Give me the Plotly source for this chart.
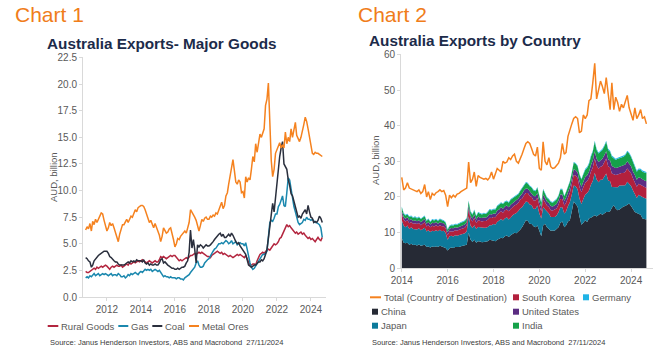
import pandas as pd
import plotly.graph_objects as go

W, H = 667, 360
FONT = "Liberation Sans, Arial, sans-serif"

# ---------------- Chart 1 data: monthly, Oct 2010 - Sep 2024 (AUD bn) ----------------
goods_start = "2010-10-01"
rural_goods = [
    2.4, 2.3, 2.3,
    2.4, 2.5, 2.6, 2.7, 2.6, 2.8, 2.7, 2.8, 2.9, 2.8, 2.9, 3.0,
    2.9, 2.7, 2.6, 2.8, 2.9, 2.8, 2.9, 3.0, 2.9, 2.9, 3.0, 2.8,
    2.9, 3.0, 3.1, 3.0, 3.2, 3.1, 3.2, 3.3, 3.2, 3.3, 3.4, 3.3,
    3.4, 3.5, 3.4, 3.3, 3.2, 3.3, 3.4, 3.3, 3.2, 3.3, 3.4, 3.3,
    3.3, 3.5, 3.8, 3.7, 3.8, 3.7, 3.6, 3.7, 3.8, 3.9, 3.8, 3.9,
    3.9, 3.7, 3.5, 3.4, 3.5, 3.4, 3.5, 3.6, 3.7, 3.6, 3.8, 3.9,
    3.9, 4.0, 4.1, 4.0, 4.1, 4.2, 4.1, 4.2, 4.1, 4.0, 3.9, 3.8,
    3.8, 3.7, 3.9, 4.0, 4.1, 4.2, 4.3, 4.2, 4.1, 4.2, 4.0, 4.1,
    4.0, 3.9, 3.8, 3.9, 3.8, 3.7, 3.8, 3.9, 4.0, 3.9, 4.0, 3.9,
    3.8, 3.7, 3.9, 3.6, 3.2, 3.0, 3.0, 3.1, 3.1, 3.0, 3.4, 3.8,
    4.0, 4.1, 4.2, 4.1, 4.3, 4.4, 4.5, 4.4, 4.6, 4.8, 5.0, 4.9,
    5.0, 5.2, 5.5, 5.6, 5.9, 6.2, 6.5, 6.8, 6.6, 6.7, 6.5, 6.3,
    6.2, 6.0, 6.1, 5.9, 6.0, 6.1, 5.9, 6.0, 5.8, 5.6, 5.5, 5.6,
    5.4, 5.5, 5.3, 5.2, 5.4, 5.6, 5.4, 5.3, 5.6,
]
gas = [
    1.8, 1.9, 1.8,
    2.0, 1.9, 2.1, 2.2, 2.0, 2.1, 2.2, 2.0, 2.1, 2.2, 2.1, 2.2,
    2.1, 2.0, 2.1, 2.2, 2.0, 2.1, 2.1, 2.0, 2.2, 2.1, 1.9, 1.9,
    2.0, 1.8, 1.9, 2.1, 2.0, 2.2, 2.1, 2.2, 2.3, 2.2, 2.1, 2.3,
    2.4, 2.3, 2.5, 2.6, 2.5, 2.6, 2.5, 2.6, 2.4, 2.5, 2.6, 2.5,
    2.4, 2.5, 2.3, 2.0, 1.9, 2.0, 1.9, 1.9, 1.8, 1.9, 1.8, 1.8,
    1.8, 1.7, 1.8, 1.8, 1.7, 1.7, 1.6, 1.8, 1.9, 2.0, 2.1, 2.3,
    2.5, 2.6, 2.8, 3.2, 3.4, 3.0, 2.8, 2.8, 2.9, 3.2, 3.4, 3.5,
    3.6, 3.8, 4.0, 4.3, 4.5, 4.6, 4.8, 5.0, 5.0, 5.1, 5.0, 5.2,
    5.3, 5.2, 5.0, 5.1, 5.3, 5.0, 5.1, 5.2, 4.9, 5.0, 5.1, 5.0,
    5.0, 4.8, 5.1, 4.5, 3.8, 3.2, 2.8, 2.6, 2.7, 2.9, 3.1, 3.3,
    3.5, 3.8, 4.0, 4.0, 4.1, 4.3, 5.5, 7.0, 7.2, 7.1, 7.4, 7.8,
    7.8, 8.5, 8.7, 9.2, 9.5, 8.6, 8.5, 9.8, 11.2, 11.0, 10.0, 9.0,
    8.5, 8.0, 7.5, 7.0, 6.8, 6.9, 7.0, 7.3, 7.2, 7.5, 7.3, 7.3,
    7.2, 7.3, 7.1, 7.0, 7.0, 6.9, 6.8, 6.5, 5.6,
]
coal = [
    3.7, 3.6, 3.4,
    3.3, 2.8, 3.0, 3.4, 3.6, 3.8, 3.9, 4.0, 4.1, 4.2, 4.3, 4.3,
    4.3, 4.1, 3.8, 3.7, 3.5, 3.4, 3.3, 3.3, 3.1, 3.0, 3.0, 3.0,
    3.0, 3.1, 3.2, 3.3, 3.2, 3.4, 3.3, 3.4, 3.3, 3.5, 3.4, 3.4,
    3.4, 3.3, 3.5, 3.2, 3.1, 3.2, 3.0, 3.1, 3.0, 3.0, 3.1, 3.0,
    3.0, 3.2, 3.5, 3.6, 3.2, 3.3, 3.1, 3.0, 2.9, 2.8, 2.7, 2.7,
    2.6, 2.6, 2.7, 2.6, 2.7, 2.8, 2.8, 2.9, 3.2, 3.4, 4.2, 6.3,
    4.6, 5.4, 4.5, 3.2, 4.9, 4.7, 4.9, 4.8, 4.6, 4.8, 4.9, 4.8,
    4.8, 4.9, 5.0, 5.2, 5.4, 5.6, 5.8, 5.9, 6.0, 5.7, 5.9, 5.6,
    5.6, 5.8, 5.9, 5.7, 6.0, 5.8, 5.4, 5.2, 5.0, 5.1, 4.8, 4.6,
    4.5, 4.2, 4.0, 3.5, 3.0, 2.9, 2.8, 2.9, 3.0, 3.0, 3.2, 3.3,
    3.3, 3.5, 3.4, 3.6, 4.0, 4.5, 5.5, 6.5, 7.8, 8.8, 8.0, 9.5,
    10.5, 12.0, 13.2, 14.0, 14.6, 12.5, 12.3, 12.0, 11.0, 10.5, 9.7, 9.5,
    9.0, 8.5, 8.2, 7.5, 7.6, 7.4, 7.8, 8.0, 8.2, 7.8, 8.6, 8.0,
    7.5, 7.4, 7.0, 7.1, 7.0, 7.2, 7.6, 7.4, 7.0,
]
metal_ores = [
    6.3, 6.6, 6.4,
    6.9, 6.2, 7.1, 6.8, 7.3, 7.0, 7.4, 7.6, 7.9, 7.8, 7.2, 6.8,
    6.2, 6.5, 7.0, 6.7, 6.9, 6.5, 6.0, 5.6, 5.2, 5.9, 6.5, 6.8,
    6.8, 7.1, 7.3, 7.0, 7.4, 7.6, 7.5, 7.9, 8.2, 8.0, 8.4, 8.5,
    8.6, 8.6, 8.5, 8.2, 7.8, 7.3, 7.0, 7.2, 6.8, 6.5, 6.9, 6.5,
    6.2, 5.8, 5.2, 5.7, 6.5, 6.3, 6.0, 6.1, 6.4, 6.5, 6.0, 5.4,
    4.7, 5.0, 5.5, 5.4, 5.7, 5.9, 6.0, 6.2, 6.0, 6.6, 7.0, 8.2,
    8.0, 7.8, 7.5, 7.2, 6.8, 6.2, 6.7, 7.3, 7.1, 7.4, 7.5, 7.3,
    7.3, 7.6, 7.5, 7.7, 7.6, 7.9, 7.8, 8.2, 8.5, 8.9, 8.3, 8.6,
    9.5, 9.8, 10.6, 11.3, 12.0, 12.9, 11.9, 10.8, 10.6, 11.0, 10.8, 9.8,
    9.9, 9.3, 11.3, 10.8, 11.2, 11.0, 12.0, 13.2, 12.7, 14.4, 13.6, 14.6,
    15.3, 15.0, 15.5, 15.8, 18.0, 18.6, 20.1, 16.5, 12.8, 11.3, 12.0, 13.5,
    13.8, 14.2, 14.5, 14.0, 14.3, 14.0, 15.5, 14.4, 15.0, 14.6, 15.8, 15.0,
    15.8, 16.4, 15.2, 14.8, 14.6, 15.0, 15.5, 16.2, 16.9, 16.5, 15.8, 15.0,
    14.2, 13.5, 13.4, 13.6, 13.5, 13.5, 13.4, 13.3, 13.2,
]

# ---------------- Chart 2 data: monthly, Jan 2014 - Sep 2024 (AUD bn) ----------------
country_start = "2014-01-01"
total_destination = [
    25.5, 22.0, 22.5, 24.0, 22.5, 22.2, 22.0, 21.8, 21.5, 22.0, 21.0, 21.5,
    23.5, 20.0, 21.5, 19.3, 21.0, 20.5, 21.2, 21.5, 22.0, 21.5, 21.8, 20.5,
    17.3, 20.5, 19.8, 20.5, 20.0, 20.8, 21.0, 21.5, 21.8, 22.0, 22.5, 29.8,
    24.0, 25.0, 27.0, 23.0, 26.0, 25.5, 25.3, 25.0, 25.2, 24.8, 25.5, 27.0,
    25.0, 26.5, 28.0, 27.5, 27.0, 30.0, 29.5, 29.8, 31.0, 30.5, 31.5, 32.0,
    30.0, 29.5, 31.0, 32.0, 33.5, 35.0, 35.5, 35.0, 33.5, 32.0, 31.5, 34.0,
    28.0, 27.5, 35.5, 30.0, 29.0, 31.0, 28.5, 28.0, 28.2, 29.0, 29.5, 31.0,
    35.0, 32.0, 32.5, 37.0, 39.0, 40.5, 42.0, 42.5, 42.0, 38.0, 38.5, 43.0,
    42.0, 43.0, 47.0, 47.5, 52.0, 57.5, 47.5, 50.0, 52.5, 51.0, 49.0, 53.5,
    48.0, 44.5, 52.0, 44.5, 48.0, 46.5, 44.0, 46.0, 45.0, 47.0, 48.5, 45.0,
    43.5, 41.5, 45.0, 42.0, 43.0, 44.5, 42.0, 42.5, 40.5,
]
china = [
    8.5, 7.2, 7.0, 7.2, 6.6, 6.9, 6.5, 6.6, 6.4, 6.7, 6.3, 6.5,
    6.6, 6.0, 6.1, 5.8, 6.1, 6.0, 6.2, 6.0, 6.3, 6.1, 6.0, 5.7,
    5.0, 5.6, 5.8, 5.7, 6.0, 5.9, 6.0, 6.2, 6.3, 6.3, 6.6, 10.0,
    8.0, 7.4, 8.0, 7.2, 7.6, 7.5, 7.3, 7.4, 7.4, 7.6, 8.0, 7.9,
    7.8, 7.6, 8.0, 8.3, 8.6, 8.4, 9.0, 9.2, 8.8, 9.3, 9.8, 10.0,
    9.8, 10.2, 10.8, 11.5, 12.5, 13.5, 13.3, 12.5, 12.4, 11.8, 11.5, 12.0,
    10.5, 9.0, 12.0, 12.5, 11.5, 11.0, 10.5, 10.6, 10.5, 11.0, 11.5, 12.8,
    13.1, 11.5, 12.0, 13.1, 13.5, 16.0, 18.7, 18.0, 17.3, 14.5, 12.2, 12.8,
    13.5, 13.0, 14.0, 14.2, 14.5, 14.9, 14.5, 15.0, 15.4, 15.0, 15.5, 15.8,
    15.8, 16.0, 17.0, 17.7, 16.8, 16.3, 16.5, 17.0, 17.3, 17.5, 17.8, 18.2,
    17.5, 16.5, 15.8, 15.5, 15.3, 15.0, 14.0, 13.8, 13.7,
]
japan = [
    5.0, 4.8, 4.5, 4.8, 4.4, 4.6, 4.5, 4.4, 4.5, 4.5, 4.4, 4.5,
    4.8, 4.3, 4.6, 4.4, 4.4, 4.4, 4.5, 4.4, 4.5, 4.3, 4.5, 4.2,
    3.0, 3.4, 3.3, 3.2, 3.3, 3.2, 3.3, 3.3, 3.4, 3.5, 3.8, 4.6,
    3.9, 3.9, 4.1, 3.8, 4.0, 4.0, 4.0, 4.0, 4.0, 4.0, 4.1, 4.2,
    4.6, 4.7, 5.0, 5.1, 5.2, 5.0, 5.0, 5.1, 4.9, 4.9, 5.1, 5.2,
    5.7, 5.9, 6.0, 5.6, 5.4, 5.2, 5.3, 5.4, 5.3, 4.8, 5.2, 5.6,
    4.9, 5.0, 5.1, 4.0, 4.3, 4.4, 3.9, 3.7, 3.9, 3.8, 4.2, 4.3,
    4.0, 3.9, 3.9, 4.4, 5.0, 4.7, 4.5, 5.0, 4.9, 5.1, 5.8, 6.6,
    7.2, 8.1, 7.8, 9.2, 10.0, 11.9, 10.4, 9.1, 9.4, 9.8, 10.3, 10.8,
    8.8, 8.4, 5.8, 5.0, 5.9, 6.4, 6.7, 6.2, 5.8, 5.8, 6.5, 5.5,
    5.6, 5.3, 5.1, 4.2, 5.3, 5.2, 6.0, 5.9, 5.8,
]
south_korea = [
    1.7, 1.6, 1.6, 1.5, 1.6, 1.5, 1.5, 1.6, 1.5, 1.5, 1.4, 1.5,
    1.5, 1.4, 1.4, 1.3, 1.4, 1.3, 1.4, 1.3, 1.3, 1.4, 1.3, 1.3,
    1.3, 1.3, 1.3, 1.4, 1.4, 1.4, 1.5, 1.5, 1.6, 1.6, 1.7, 2.0,
    1.9, 1.8, 2.0, 1.7, 1.9, 1.8, 1.8, 1.9, 1.9, 2.0, 2.1, 2.0,
    2.0, 2.0, 2.1, 2.1, 2.2, 2.2, 2.3, 2.2, 2.3, 2.4, 2.3, 2.4,
    2.4, 2.3, 2.4, 2.5, 2.5, 2.4, 2.5, 2.4, 2.3, 2.4, 2.3, 2.2,
    2.2, 2.0, 2.3, 1.9, 1.8, 1.8, 1.9, 1.9, 2.0, 2.0, 2.1, 2.3,
    2.3, 2.2, 2.5, 2.6, 2.7, 2.9, 3.0, 3.0, 3.1, 3.2, 3.3, 3.3,
    3.3, 3.4, 3.5, 3.7, 3.8, 4.0, 3.9, 3.8, 3.7, 3.9, 4.0, 4.2,
    4.0, 3.9, 3.8, 3.6, 3.5, 3.6, 3.4, 3.5, 3.6, 3.8, 3.7, 3.6,
    3.5, 3.4, 3.3, 3.2, 3.1, 3.2, 3.1, 3.0, 3.0,
]
united_states = [
    0.9, 0.8, 0.8, 0.8, 0.9, 0.8, 0.8, 0.9, 0.8, 0.8, 0.8, 0.9,
    0.9, 0.8, 0.9, 0.8, 0.9, 0.9, 0.9, 0.8, 0.9, 0.9, 0.8, 0.9,
    0.8, 0.8, 0.9, 0.9, 0.8, 0.9, 0.9, 0.9, 0.8, 0.9, 0.9, 1.0,
    0.9, 0.9, 1.0, 0.9, 1.0, 0.9, 1.0, 1.0, 0.9, 1.0, 1.0, 1.0,
    1.0, 1.0, 1.1, 1.0, 1.1, 1.1, 1.0, 1.1, 1.1, 1.2, 1.1, 1.1,
    1.1, 1.2, 1.1, 1.3, 1.4, 1.3, 1.2, 1.3, 1.2, 1.3, 1.2, 1.3,
    1.2, 1.1, 1.3, 1.2, 1.1, 1.1, 1.2, 1.1, 1.2, 1.2, 1.3, 1.3,
    1.3, 1.3, 1.4, 1.4, 1.5, 1.5, 1.6, 1.5, 1.6, 1.6, 1.6, 1.6,
    1.6, 1.6, 1.7, 1.8, 1.9, 2.0, 1.9, 1.9, 1.8, 2.0, 1.9, 2.0,
    2.0, 1.9, 2.1, 2.0, 1.9, 2.0, 1.9, 2.0, 2.1, 2.0, 2.0, 2.1,
    2.0, 1.9, 2.0, 1.9, 1.8, 1.9, 1.8, 1.9, 1.9,
]
india = [
    1.0, 0.9, 0.9, 0.8, 0.9, 0.8, 0.8, 0.9, 0.8, 0.8, 0.9, 0.8,
    0.8, 0.8, 0.8, 0.7, 0.8, 0.8, 0.7, 0.8, 0.8, 0.8, 0.7, 0.7,
    0.7, 0.7, 0.8, 0.8, 0.8, 0.8, 0.9, 0.9, 0.9, 1.0, 1.0, 1.2,
    1.1, 1.0, 1.2, 1.0, 1.1, 1.1, 1.0, 1.1, 1.0, 1.1, 1.2, 1.1,
    1.1, 1.2, 1.2, 1.3, 1.2, 1.3, 1.3, 1.2, 1.3, 1.4, 1.3, 1.3,
    1.3, 1.2, 1.3, 1.4, 1.5, 1.6, 1.5, 1.4, 1.4, 1.5, 1.4, 1.5,
    1.5, 1.3, 1.4, 1.2, 1.1, 1.0, 1.1, 1.1, 1.2, 1.3, 1.2, 1.4,
    1.4, 1.3, 1.5, 1.5, 1.6, 1.7, 1.8, 1.8, 1.7, 1.9, 2.0, 2.0,
    2.0, 2.1, 2.2, 2.4, 2.5, 2.7, 2.5, 2.4, 2.4, 2.5, 2.5, 2.7,
    2.6, 2.5, 2.6, 2.4, 2.3, 2.4, 2.3, 2.4, 2.5, 2.6, 2.7, 2.8,
    2.6, 2.4, 2.3, 2.3, 2.2, 2.3, 2.2, 2.3, 2.3,
]
germany = [
    0.2, 0.2, 0.2, 0.2, 0.2, 0.2, 0.2, 0.2, 0.2, 0.2, 0.2, 0.2,
    0.2, 0.2, 0.2, 0.2, 0.2, 0.2, 0.2, 0.2, 0.2, 0.2, 0.2, 0.2,
    0.2, 0.2, 0.2, 0.2, 0.2, 0.2, 0.2, 0.2, 0.2, 0.2, 0.2, 0.2,
    0.2, 0.2, 0.2, 0.2, 0.2, 0.2, 0.2, 0.2, 0.2, 0.2, 0.2, 0.2,
    0.2, 0.2, 0.2, 0.2, 0.2, 0.2, 0.2, 0.2, 0.2, 0.2, 0.2, 0.2,
    0.2, 0.2, 0.2, 0.2, 0.2, 0.2, 0.2, 0.2, 0.2, 0.2, 0.2, 0.2,
    0.2, 0.2, 0.2, 0.2, 0.2, 0.2, 0.2, 0.2, 0.2, 0.2, 0.2, 0.2,
    0.2, 0.2, 0.2, 0.2, 0.2, 0.2, 0.2, 0.2, 0.2, 0.2, 0.2, 0.2,
    0.3, 0.3, 0.3, 0.3, 0.3, 0.3, 0.3, 0.3, 0.3, 0.3, 0.3, 0.3,
    0.3, 0.3, 0.3, 0.3, 0.3, 0.3, 0.3, 0.3, 0.3, 0.3, 0.3, 0.3,
    0.3, 0.3, 0.3, 0.3, 0.3, 0.3, 0.3, 0.3, 0.3,
]

goods_series = [("Rural Goods", rural_goods, "#b3263f"),
                ("Gas", gas, "#1b88ae"),
                ("Coal", coal, "#2a2f3d"),
                ("Metal Ores", metal_ores, "#f5821f")]
stack_series = [("China", china, "#262a35"),
                ("Japan", japan, "#0d7a9b"),
                ("South Korea", south_korea, "#b2203d"),
                ("United States", united_states, "#5b2c82"),
                ("India", india, "#15a24a"),
                ("Germany", germany, "#20b4e6")]
TOTAL_COLOR = "#f5821f"

goods_dates = pd.date_range(goods_start, periods=len(metal_ores), freq="MS")
country_dates = pd.date_range(country_start, periods=len(total_destination), freq="MS")

def px(x):
    return x / W

def py(y):
    return 1 - y / H

fig = go.Figure()

for name, vals, col in goods_series:
    fig.add_trace(go.Scatter(x=goods_dates, y=vals, name=name, mode="lines",
                             line=dict(color=col, width=1.5), xaxis="x", yaxis="y",
                             showlegend=False))

for name, vals, col in stack_series:
    fig.add_trace(go.Scatter(x=country_dates, y=vals, name=name, mode="lines",
                             stackgroup="one", line=dict(width=0, color=col),
                             fillcolor=col, xaxis="x2", yaxis="y2", showlegend=False))

fig.add_trace(go.Scatter(x=country_dates, y=total_destination,
                         name="Total (Country of Destination)", mode="lines",
                         line=dict(color=TOTAL_COLOR, width=1.5), xaxis="x2", yaxis="y2",
                         showlegend=False))

axis_common = dict(showgrid=False, zeroline=False, showline=True, linecolor="#d9d9d9",
                   linewidth=1, ticks="outside", ticklen=3, tickcolor="#d9d9d9",
                   automargin=False,
                   tickfont=dict(family=FONT, size=10, color="#595959"))

fig.update_layout(
    width=W, height=H, autosize=False,
    margin=dict(l=0, r=0, t=0, b=0, pad=0, autoexpand=False),
    paper_bgcolor="white", plot_bgcolor="white",
    showlegend=False,
    font=dict(family=FONT),
    xaxis=dict(axis_common, domain=[px(83), px(326)], anchor="y", type="date",
               range=["2010-08-05", "2024-11-20"], dtick="M24", tick0="2012-01-01",
               tickformat="%Y"),
    yaxis=dict(axis_common, domain=[py(297), py(57)], anchor="x",
               range=[0, 22.55], dtick=2.5, tickformat=".1f"),
    xaxis2=dict(axis_common, domain=[px(401), px(653)], anchor="y2", type="date",
                range=["2013-12-20", "2024-12-15"], dtick="M24", tick0="2014-01-01",
                tickformat="%Y"),
    yaxis2=dict(axis_common, domain=[py(268.3), py(54)], anchor="x2",
                range=[0, 60.1], dtick=10),
)

ann = []
shapes = []

def text(x, y, s, size, color, bold=False, angle=0, xanchor="left"):
    ann.append(dict(xref="paper", yref="paper", x=px(x), y=py(y), text=("<b>%s</b>" % s) if bold else s,
                    showarrow=False, xanchor=xanchor, yanchor="middle", textangle=angle,
                    font=dict(family=FONT, size=size, color=color)))

# headings
text(13, 15, "Chart 1", 21, "#f07d1a")
text(356, 15, "Chart 2", 21, "#f07d1a")
text(45, 43, "Australia Exports- Major Goods", 15.3, "#1c2b4a", bold=True)
text(367, 40, "Australia Exports by Country", 15.3, "#1c2b4a", bold=True)
text(53, 177, "AUD, billion", 9.5, "#595959", angle=-90, xanchor="center")
text(375, 160, "AUD, billion", 9.5, "#595959", angle=-90, xanchor="center")

LEG = "#595959"
# chart 1 legend
for (name, _, col), (x0, x1) in zip(goods_series, [(47.7, 58.3), (118.3, 128.3), (152.3, 162.3), (189, 199)]):
    shapes.append(dict(type="line", xref="paper", yref="paper", x0=px(x0), x1=px(x1),
                       y0=py(326), y1=py(326), line=dict(color=col, width=2)))
    text(x1 + 0.5, 326, name, 9.5, LEG)

# chart 2 legend
shapes.append(dict(type="line", xref="paper", yref="paper", x0=px(370), x1=px(381),
                   y0=py(297.3), y1=py(297.3), line=dict(color=TOTAL_COLOR, width=2)))
text(382, 297.3, "Total (Country of Destination)", 9.5, LEG)
colors = {n: c for n, _, c in stack_series}
positions = {"South Korea": (513, 297.3), "Germany": (583, 297.3),
             "China": (372, 311.7), "United States": (513, 311.7),
             "Japan": (372, 325.7), "India": (513, 325.7)}
for name, (x0, yc) in positions.items():
    shapes.append(dict(type="rect", xref="paper", yref="paper", x0=px(x0), x1=px(x0 + 6),
                       y0=py(yc + 3), y1=py(yc - 3), fillcolor=colors[name], line=dict(width=0)))
    text(x0 + 7, yc, name, 9.5, LEG)

src = "Source: Janus Henderson Investors, ABS and Macrobond  27/11/2024"
text(48, 342, src, 7.5, "#3a3a3a")
text(370, 342, src, 7.5, "#3a3a3a")

fig.update_layout(annotations=ann, shapes=shapes)
# remove the default page margin so the 667x360 figure fills the window exactly
fig.write_html("out.html", config={"displayModeBar": False},
               post_script="document.body.style.margin='0';")
